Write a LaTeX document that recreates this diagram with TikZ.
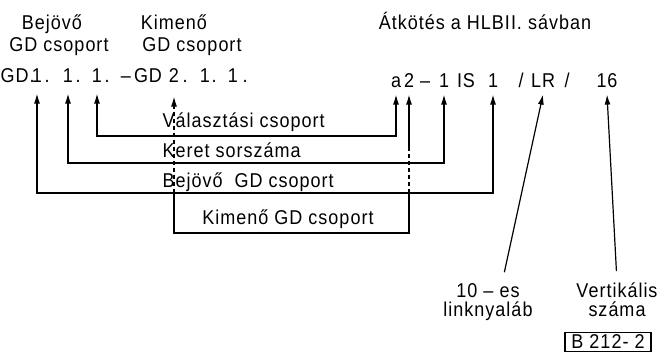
\documentclass[tikz,border=0pt]{standalone}
\usepackage{fontspec}
\setmainfont{Liberation Sans}[LetterSpace=5,FakeStretch=0.9]
\usetikzlibrary{arrows.meta}
\begin{document}
\begin{tikzpicture}[x=1pt,y=1pt,
  font=\fontsize{20}{19}\selectfont,
  line width=1.2pt,
  arr/.tip={Latex[length=10pt,width=6pt]},
  tok/.style={anchor=base, inner sep=0pt},
  tl/.style={tok, text depth=10pt},
  tr/.style={tok, text depth=6pt},
  lbl/.style={anchor=base west, inner sep=0pt},
  dashline/.style={dash pattern=on 4pt off 3pt}]
\useasboundingbox (0,0) rectangle (660,-352);

% headers
\node[tok] (hb1) at (52,-30) {Bejövő};
\node[tok] (hb2) at (59,-52) {GD csoport};
\node[tok] (hk1) at (174,-30) {Kimenő};
\node[tok] (hk2) at (192,-52) {GD csoport};
\node[tok] (ha) at (485,-30) {Átkötés a HLBII. sávban};

% left row
\node[tok, anchor=base west] (gd) at (0,-83) {GD.};
\node[tl] (n1) at (37,-83) {1};
\node[tok] (p1) at (47,-83) {.};
\node[tl] (n2) at (68,-83) {1};
\node[tok] (p2) at (78,-83) {.};
\node[tl] (n3) at (97,-83) {1};
\node[tok] (p3) at (107,-83) {.};
\node[tok] (d1) at (126,-83) {–};
\node[tok] (gd2) at (148,-83) {GD};
\node[tok, text depth=13pt] (k2) at (174,-83) {2};
\node[tok] (p4) at (185,-83) {.};
\node[tok] (m1) at (205,-83) {1};
\node[tok] (p5) at (214,-83) {.};
\node[tok] (m2) at (233,-83) {1};
\node[tok] (p6) at (245,-83) {.};

% right row
\node[tr] (a) at (396,-88) {a};
\node[tr] (r2) at (409,-88) {2};
\node[tok] (d2) at (425,-88) {–};
\node[tr] (r1) at (444,-88) {1};
\node[tok] (is) at (466,-88) {IS};
\node[tr] (s1) at (493,-88) {1};
\node[tok] (sl1) at (521,-88) {/};
\node[tr] (lr) at (543,-88) {LR};
\node[tok] (sl2) at (567,-88) {/};
\node[tr] (v16) at (607,-88) {16};

% line labels
\node[lbl] (t1) at (162,-128) {Választási csoport};
\node[lbl] (t2) at (162,-158) {Keret sorszáma};
\node[lbl] (t3) at (162,-188) {Bejövő\ \ GD csoport};
\node[tok] (t4) at (288,-225) {Kimenő GD csoport};

% connectors
\coordinate (h1) at (0,-136);
\coordinate (h2) at (0,-163);
\coordinate (h3) at (0,-193);
\coordinate (h4) at (0,-233);
\coordinate (h5) at (0,-150);

\draw[arr-arr] (n3.south) |- (h1 -| a.south) -- (a.south);
\draw[arr-arr] (n2.south) |- (h2 -| r1.south) -- (r1.south);
\draw[arr-arr] (n1.south) |- (h3 -| s1.south) -- (s1.south);

\coordinate (kt) at ([yshift=-8pt]k2.south);
\draw[-arr] (kt) -- (k2.south);
\draw[dashline] (kt) -- (h3 -| k2.south);
\draw (h3 -| k2.south) -- (h4 -| k2.south) -- (h4 -| r2.south) -- (h3 -| r2.south);
\draw[dashline] (h3 -| r2.south) -- (h5 -| r2.south);
\draw[-arr] (h5 -| r2.south) -- (r2.south);

% bottom labels
\node[anchor=north, inner sep=0pt, align=center] (ln) at (488,-283) {10 – es\\linknyaláb};
\node[anchor=north, inner sep=0pt, align=center] (vt) at (617,-282) {Vertikális\\száma};
\draw[-arr, shorten <=11pt] ([xshift=14pt]ln.north) -- (lr.south);
\draw[-arr, shorten <=11pt] (vt.north) -- (v16.south);

\node[draw, line width=1.2pt, inner sep=0pt, minimum width=86pt, minimum height=19pt] (bx) at (608,-342) {B 212- 2};
\end{tikzpicture}
\end{document}
